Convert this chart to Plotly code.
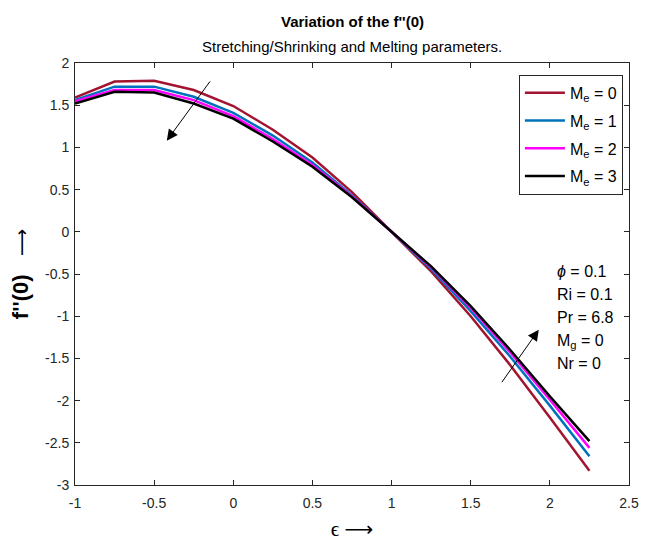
import plotly.graph_objects as go

eps = [-1, -0.75, -0.5, -0.25, 0, 0.25, 0.5, 0.75, 1, 1.25, 1.5, 1.75, 2, 2.25]
fpp_me0 = [1.59, 1.78, 1.79, 1.68, 1.49, 1.21, 0.88, 0.47, 0.0, -0.47, -1.00, -1.58, -2.20, -2.83]
fpp_me1 = [1.56, 1.72, 1.72, 1.60, 1.41, 1.14, 0.82, 0.43, 0.0, -0.44, -0.94, -1.48, -2.06, -2.66]
fpp_me2 = [1.545, 1.68, 1.68, 1.56, 1.37, 1.10, 0.79, 0.42, 0.0, -0.42, -0.90, -1.43, -1.99, -2.56]
fpp_me3 = [1.52, 1.66, 1.65, 1.52, 1.34, 1.07, 0.77, 0.41, 0.0, -0.41, -0.88, -1.40, -1.95, -2.48]
series_names = ["M<sub>e</sub> = 0", "M<sub>e</sub> = 1", "M<sub>e</sub> = 2", "M<sub>e</sub> = 3"]
series_vals = [fpp_me0, fpp_me1, fpp_me2, fpp_me3]
colors = ["#A2142F", "#0072BD", "#FF00FF", "#000000"]
x_ticks = [-1, -0.5, 0, 0.5, 1, 1.5, 2, 2.5]
y_ticks = [-3, -2.5, -2, -1.5, -1, -0.5, 0, 0.5, 1, 1.5, 2]
param_lines = ["<i>ϕ</i> = 0.1", "Ri = 0.1", "Pr = 6.8", "M<sub>g</sub> = 0", "Nr = 0"]
param_y = [-0.475, -0.745, -1.015, -1.30, -1.565]

font = "Liberation Sans, Arial, sans-serif"
fig = go.Figure()
for i, (name, vals, c) in enumerate(zip(series_names, series_vals, colors)):
    fig.add_trace(go.Scatter(x=eps, y=vals, mode="lines", name=name, legendgroup=f"g{i}",
                             line=dict(color=c, width=2.5)))

axis_common = dict(showline=True, linecolor="#262626", linewidth=1, mirror="ticks",
                   ticks="inside", ticklen=5, tickcolor="#262626", showgrid=False,
                   zeroline=False, automargin=False,
                   tickfont=dict(family=font, size=14, color="#262626"))
fig.update_xaxes(range=[-1, 2.5], tickvals=x_ticks,
                 ticktext=[f"{v:g}" for v in x_ticks], ticklabelstandoff=5,
                 title=dict(text="ϵ&nbsp;<span style='font-family:DejaVu Sans;font-size:20px'>⟶</span>",
                            font=dict(family="Liberation Serif, Times New Roman, serif", size=21, color="#000"),
                            standoff=17),
                 **axis_common)
fig.update_yaxes(range=[-3, 2], tickvals=y_ticks,
                 ticktext=[f"{v:g}" for v in y_ticks], ticklabelstandoff=2,
                 title=dict(text="<b>f''(0)</b>   <span style='font-family:DejaVu Sans;font-size:19px'>⟶</span>",
                            font=dict(family=font, size=22, color="#000"), standoff=16),
                 **axis_common)

fig.add_annotation(x=-0.42, y=1.08, ax=-0.14, ay=1.80, xref="x", yref="y", axref="x", ayref="y",
                   showarrow=True, arrowhead=2, arrowsize=2.2, arrowwidth=1, arrowcolor="#000", text="")
fig.add_annotation(x=1.93, y=-1.16, ax=1.69, ay=-1.80, xref="x", yref="y", axref="x", ayref="y",
                   showarrow=True, arrowhead=2, arrowsize=2.2, arrowwidth=1, arrowcolor="#000", text="")
for t, yv in zip(param_lines, param_y):
    fig.add_annotation(x=2.03, y=yv, xref="x", yref="y", text=t, showarrow=False,
                       xanchor="left", yanchor="middle", align="left",
                       font=dict(family=font, size=16, color="#000"))

fig.add_annotation(x=0.5, y=1, xref="paper", yref="paper", yshift=31, text="<b>Variation of the f''(0)</b>",
                   showarrow=False, font=dict(family=font, size=15, color="#000"), yanchor="bottom")
fig.add_annotation(x=0.5, y=1, xref="paper", yref="paper", yshift=6, text="Stretching/Shrinking and Melting parameters.",
                   showarrow=False, font=dict(family=font, size=15, color="#000"), yanchor="bottom")

fig.update_layout(
    width=642, height=533,
    margin=dict(l=67, r=21, t=55, b=56),
    plot_bgcolor="white", paper_bgcolor="white",
    font=dict(family=font, size=14, color="#000"),
    showlegend=True,
    legend=dict(x=0.989, y=0.972, xanchor="right", yanchor="top",
                bgcolor="white", bordercolor="#262626", borderwidth=1,
                font=dict(family=font, size=16, color="#000"),
                tracegroupgap=4, itemwidth=40),
)
fig.write_html("out.html")
